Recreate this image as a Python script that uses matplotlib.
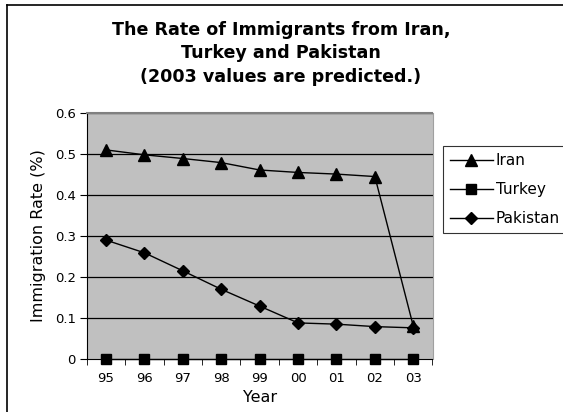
import matplotlib
matplotlib.use("Agg")
import matplotlib.pyplot as plt
from matplotlib.lines import Line2D

years = ["95", "96", "97", "98", "99", "00", "01", "02", "03"]
iran = [0.51, 0.498, 0.489, 0.479, 0.461, 0.455, 0.451, 0.445, 0.080]
turkey = [0, 0, 0, 0, 0, 0, 0, 0, 0]
pakistan = [0.290, 0.259, 0.215, 0.170, 0.129, 0.088, 0.085, 0.079, 0.076]
yticks = [0, 0.1, 0.2, 0.3, 0.4, 0.5, 0.6]
ytick_labels = ["0", "0.1", "0.2", "0.3", "0.4", "0.5", "0.6"]

W, H = 563, 412
fig = plt.figure(figsize=(W / 100, H / 100), dpi=100)
plt.rcParams["font.family"] = ["DejaVu Sans"]

# chart-area frame (top and left edges visible)
fig.add_artist(Line2D([7 / W, 7 / W], [0, 1 - 5 / H], transform=fig.transFigure,
                      color="black", lw=1.2))
fig.add_artist(Line2D([7 / W, 1], [1 - 5 / H, 1 - 5 / H], transform=fig.transFigure,
                      color="black", lw=1.2))

left, right, top, bottom = 86.8, 432.5, 113, 359
ax = fig.add_axes([left / W, 1 - bottom / H, (right - left) / W, (bottom - top) / H])
ax.set_facecolor("#C0C0C0")

x = list(range(len(years)))
ax.plot(x, iran, color="black", lw=1, marker="^", ms=8, label="Iran", zorder=3)
ax.plot(x, turkey, color="black", lw=1, marker="s", ms=7, label="Turkey", zorder=3,
        clip_on=False)
ax.plot(x, pakistan, color="black", lw=1, marker="D", ms=6.5, label="Pakistan", zorder=3)

ax.set_xlim(-0.5, len(years) - 0.5)
ax.set_ylim(0, 0.6)
ax.set_yticks(yticks)
ax.set_yticklabels(ytick_labels, fontsize=9.5)
ax.set_xticks(x)
ax.set_xticklabels(years, fontsize=9.5)
ax.set_xticks([i - 0.5 for i in range(len(years) + 1)], minor=True)
ax.tick_params(axis="x", which="major", length=0, pad=9)
ax.tick_params(axis="x", which="minor", length=4, direction="out", color="black")
ax.tick_params(axis="y", which="major", length=5, direction="out", pad=3)

for yv in yticks[1:]:
    ax.axhline(yv, color="black", lw=0.9, zorder=1)

ax.spines["left"].set_color("black")
ax.spines["bottom"].set_color("black")
ax.spines["top"].set_color("#808080")
ax.spines["top"].set_linewidth(1.5)
ax.spines["right"].set_color("#A0A0A0")

ax.set_xlabel("Year", fontsize=11.5, labelpad=4)
ax.set_ylabel("Immigration Rate (%)", fontsize=11.5, labelpad=6)

fig.text(281 / W, 1 - 53.5 / H,
         "The Rate of Immigrants from Iran,\nTurkey and Pakistan\n(2003 values are predicted.)",
         ha="center", va="center", fontsize=12.6, fontweight="bold", linespacing=1.37)

leg = fig.legend(loc="upper left", bbox_to_anchor=(443 / W, 1 - 146 / H),
                 bbox_transform=fig.transFigure, frameon=True, fancybox=False,
                 edgecolor="black", fontsize=11, handlelength=2.8, handletextpad=0.2,
                 labelspacing=0.93, borderpad=0.45, borderaxespad=0)
leg.get_frame().set_linewidth(0.8)

fig.savefig("out.png", dpi=100)
